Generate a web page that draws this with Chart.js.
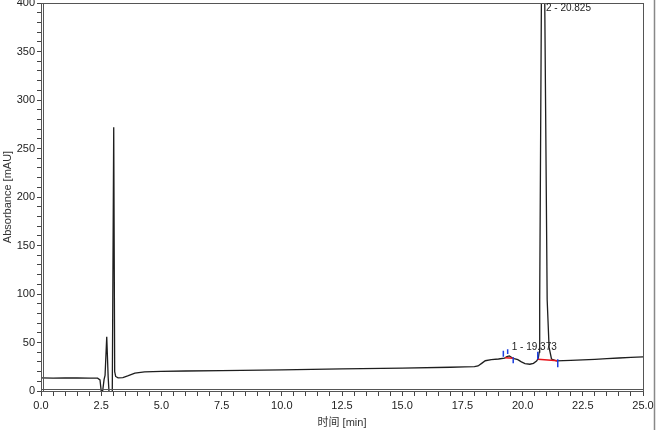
<!DOCTYPE html>
<html>
<head>
<meta charset="utf-8">
<script src="https://cdn.jsdelivr.net/npm/chart.js@4/dist/chart.umd.min.js"></script>
<style>
  body { margin: 0; background: #fff; }
  canvas { display: block; }
</style>
</head>
<body>
<canvas id="chromatogram" width="657" height="430"></canvas>
<script>
// retention time [min] and detector signal [mAU]
const times = [
  0.0, 0.5, 1.0, 1.5, 2.0, 2.35, 2.45, 2.5, 2.56, 2.62, 2.66, 2.73, 2.79, 2.83, 2.86, 2.96,
  2.99, 3.02, 3.06, 3.1, 3.2, 3.4, 3.6, 3.9, 4.3, 5.0, 6.0, 7.5, 10.0, 12.5, 15.0, 17.0,
  17.6, 18.0, 18.15, 18.3, 18.45, 18.7, 19.0, 19.25, 19.35, 19.45, 19.55, 19.65, 19.8, 19.95,
  20.1, 20.3, 20.45, 20.58, 20.65, 20.69, 20.71, 20.78, 20.83, 20.92, 21.02, 21.1, 21.2, 21.4,
  22.0, 22.5, 23.0, 23.5, 24.0, 24.5, 25.0
];
const absorbance = [
  13.5, 13.3, 13.6, 13.4, 13.3, 13.2, 11.5, 0, 0, 12, 16, 56, 14, -3, -3, -3,
  -3, 272, 20, 15, 13.5, 13.8, 15.5, 18.5, 19.8, 20.2, 20.6, 21, 21.8, 22.8, 23.6, 24.5,
  24.8, 25.2, 25.8, 28.5, 31.2, 32.3, 33, 34, 35.5, 36.2, 34.5, 33.3, 32.3, 30,
  28.3, 27.6, 28.5, 31, 33.5, 40, 94, 400, 1000, 400, 94, 45, 33, 31,
  31.5, 32, 32.6, 33.3, 34, 34.6, 35.2
];

// peak annotations
const peakLabels = ["1 - 19.373", "2 - 20.825"];
const peakLabelTimes = [19.55, 20.97];
const peakLabelLevels = [45.5, 395];

// integration baselines (red) and start/end marks (blue)
const baseTimes = [[19.27, 19.61], [20.63, 21.46]];
const baseLevels = [[34.4, 33.7], [32.7, 31.2]];
const markTimes = [19.2, 19.38, 19.61, 20.63, 21.46];
const markLow = [35.4, 38.1, 28.5, 32.7, 24.4];
const markHigh = [41.5, 43.0, 34.7, 40.5, 32.7];

const xTicks = { min: 0, max: 25, step: 0.5, major: 2.5 };
const yTicks = { min: 0, max: 400, step: 10, major: 50 };

const trace = times.map((t, i) => ({ x: t, y: absorbance[i] }));

const baselines = [];
baseTimes.forEach((pair, i) => {
  baselines.push({ x: pair[0], y: baseLevels[i][0] });
  baselines.push({ x: pair[1], y: baseLevels[i][1] });
  baselines.push({ x: pair[1], y: null });
});

const marks = [];
markTimes.forEach((t, i) => {
  marks.push({ x: t, y: markLow[i] });
  marks.push({ x: t, y: markHigh[i] });
  marks.push({ x: t, y: null });
});

const isMajor = (v, major) => Math.abs(v / major - Math.round(v / major)) < 1e-6;

const axisColor = "#444";
const font = { family: "'Liberation Sans', Arial, 'Noto Sans CJK SC', sans-serif", size: 11 };

const framePlugin = {
  id: "frame",
  afterDraw(chart) {
    const { ctx, chartArea: a, scales } = chart;
    ctx.save();
    ctx.strokeStyle = "#555";
    ctx.lineWidth = 1;
    ctx.strokeRect(a.left + 0.5, a.top + 0.5, a.right - a.left, a.bottom - a.top);
    ctx.beginPath();
    ctx.moveTo(a.left + 2.5, a.top);
    ctx.lineTo(a.left + 2.5, a.bottom);
    ctx.moveTo(a.left, a.bottom - 1.5);
    ctx.lineTo(a.right, a.bottom - 1.5);
    ctx.stroke();
    // outer window edge
    ctx.strokeStyle = "#888";
    ctx.lineWidth = 1.5;
    ctx.beginPath();
    ctx.moveTo(654.5, 0);
    ctx.lineTo(654.5, chart.height);
    ctx.stroke();
    // peak labels
    ctx.fillStyle = "#222";
    ctx.font = "10px 'Liberation Sans Narrow', 'Liberation Sans', Arial, sans-serif";
    ctx.textBaseline = "middle";
    ctx.textAlign = "left";
    peakLabels.forEach((txt, i) => {
      ctx.fillText(txt,
        scales.x.getPixelForValue(peakLabelTimes[i]),
        scales.y.getPixelForValue(peakLabelLevels[i]));
    });
    ctx.restore();
  }
};

new Chart("chromatogram", {
  type: "line",
  data: {
    datasets: [
      {
        data: trace,
        borderColor: "#1e1e1e",
        borderWidth: 1.3,
        pointRadius: 0,
        tension: 0,
        order: 2
      },
      {
        data: baselines,
        borderColor: "#e8141c",
        borderWidth: 1.5,
        pointRadius: 0,
        spanGaps: false,
        order: 1
      },
      {
        data: marks,
        borderColor: "#1d3fe0",
        borderWidth: 1.5,
        pointRadius: 0,
        spanGaps: false,
        order: 0
      }
    ]
  },
  options: {
    responsive: false,
    animation: false,
    devicePixelRatio: 1,
    layout: { padding: { left: 0, top: 3, right: 14, bottom: 0 } },
    plugins: {
      legend: { display: false },
      tooltip: { enabled: false }
    },
    scales: {
      x: {
        type: "linear",
        min: xTicks.min,
        max: xTicks.max,
        afterFit: (scale) => {
          scale.height = 39;
          scale.paddingLeft = 0;
          scale.paddingRight = 0;
        },
        ticks: {
          stepSize: xTicks.step,
          autoSkip: false,
          maxRotation: 0,
          padding: 3,
          color: "#222",
          font: font,
          callback: (v) => (isMajor(v, xTicks.major) ? v.toFixed(1) : "")
        },
        grid: {
          display: true,
          drawOnChartArea: false,
          drawTicks: true,
          tickLength: 5,
          tickColor: axisColor
        },
        border: { display: true, color: axisColor },
        title: {
          display: true,
          text: "时间 [min]",
          color: "#333",
          font: font,
          padding: { top: 0, bottom: 0 }
        }
      },
      y: {
        type: "linear",
        min: yTicks.min,
        max: yTicks.max,
        afterFit: (scale) => {
          scale.width = 41;
          scale.paddingTop = 0;
          scale.paddingBottom = 0;
        },
        ticks: {
          stepSize: yTicks.step,
          autoSkip: false,
          padding: 2,
          color: "#222",
          font: font,
          callback: (v) => (isMajor(v, yTicks.major) ? String(v) : "")
        },
        grid: {
          display: true,
          drawOnChartArea: false,
          drawTicks: true,
          tickLength: 4,
          tickColor: axisColor
        },
        border: { display: true, color: axisColor },
        title: {
          display: true,
          text: "Absorbance [mAU]",
          color: "#333",
          font: font,
          padding: { top: 1, bottom: 0 }
        }
      }
    }
  },
  plugins: [framePlugin]
});
</script>
</body>
</html>
